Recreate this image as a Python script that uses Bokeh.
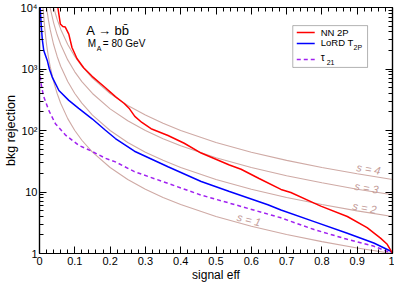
from bokeh.plotting import figure
from bokeh.models import (LinearAxis, LogAxis, SingleIntervalTicker, LogTicker, Label,
                          BoxAnnotation, Arrow, CustomJSTickFormatter)
from bokeh.embed import file_html
from bokeh.resources import INLINE

# ---- data ----
nn_eff = [0.052, 0.059, 0.066, 0.073, 0.083, 0.092, 0.106, 0.125, 0.149, 0.186, 0.203, 0.215,
          0.24, 0.255, 0.27, 0.29, 0.316, 0.364, 0.41, 0.458, 0.538, 0.571, 0.622, 0.684,
          0.712, 0.778, 0.797, 0.872, 0.928, 0.966, 0.985, 1.0]
nn_rej = [10000, 5400, 4900, 4800, 3700, 2240, 1480, 1050, 760, 500, 410, 355,
          275, 225, 170, 135, 107, 83, 62, 43, 27.5, 23.4, 16.6, 11.0,
          9.8, 6.6, 5.9, 4.0, 2.63, 1.78, 1.41, 1.0]

lord_eff = [0.002, 0.005, 0.008, 0.012, 0.022, 0.028, 0.036, 0.055, 0.083, 0.111, 0.149, 0.186,
            0.215, 0.269, 0.364, 0.458, 0.538, 0.647, 0.684, 0.778, 0.872, 0.947, 0.994, 1.0]
lord_rej = [10000, 5000, 3000, 2000, 1380, 1000, 740, 447, 309, 229, 155, 102,
            74, 46, 25.7, 14.8, 10.2, 6.2, 5.1, 3.3, 2.14, 1.48, 1.1, 1.0]

tau_eff = [0.002, 0.006, 0.012, 0.026, 0.045, 0.073, 0.111, 0.149, 0.186, 0.215, 0.269, 0.364,
           0.458, 0.538, 0.684, 0.778, 0.872, 0.946, 1.0]
tau_rej = [760, 510, 355, 214, 129, 85, 57.5, 45.7, 35.5, 30.9, 21.4, 13.8,
           8.9, 6.6, 3.8, 2.45, 1.70, 1.32, 1.0]

iso_eff = [0.01, 0.015, 0.02, 0.025, 0.03, 0.04, 0.05, 0.06, 0.08, 0.1, 0.12, 0.15, 0.2,
           0.25, 0.3, 0.35, 0.4, 0.5, 0.6, 0.7, 0.8, 0.9, 1.0]
iso_s1 = [10000, 4444, 2500, 1600, 1111, 625, 400, 278, 156, 100, 69.4, 44.4, 25,
          16, 11.1, 8.16, 6.25, 4, 2.78, 2.04, 1.56, 1.23, 1]
iso_s2 = [40000, 17778, 10000, 6400, 4444, 2500, 1600, 1111, 625, 400, 278, 178, 100,
          64, 44.4, 32.7, 25, 16, 11.1, 8.16, 6.25, 4.94, 4]
iso_s3 = [90000, 40000, 22500, 14400, 10000, 5625, 3600, 2500, 1406, 900, 625, 400, 225,
          144, 100, 73.5, 56.3, 36, 25, 18.4, 14.1, 11.1, 9]
iso_s4 = [160000, 71111, 40000, 25600, 17778, 10000, 6400, 4444, 2500, 1600, 1111, 711, 400,
          256, 178, 131, 100, 64, 44.4, 32.7, 25, 19.8, 16]
iso_labels = ["s = 1", "s = 2", "s = 3", "s = 4"]

y_tick_labels = {1: "1", 10: "10", 100: "10\u00b2", 1000: "10\u00b3", 10000: "10\u2074"}

FONT = "Liberation Sans"
BROWN = "#cfaaa5"
BROWN_TXT = "#c39b97"

p = figure(width=394, height=284, x_range=(0, 1), y_range=(1, 1e4), y_axis_type="log",
           output_backend="svg", toolbar_location=None,
           min_border_left=38, min_border_right=2, min_border_top=7, min_border_bottom=30)
p.grid.visible = False
p.outline_line_color = "black"
p.outline_line_width = 1.2
p.background_fill_color = "white"
p.border_fill_color = "white"


def style_axis(ax):
    ax.axis_line_color = "black"
    ax.axis_line_width = 1.2
    ax.major_tick_in = 7
    ax.major_tick_out = 0
    ax.minor_tick_in = 4
    ax.minor_tick_out = 0
    ax.major_tick_line_color = "black"
    ax.minor_tick_line_color = "black"
    ax.major_label_text_font = FONT
    ax.major_label_text_font_size = "11px"
    ax.major_label_text_color = "black"
    ax.axis_label_text_font = FONT
    ax.axis_label_text_font_style = "normal"
    ax.axis_label_text_color = "black"
    ax.axis_label_standoff = 0


xt = SingleIntervalTicker(interval=0.1, num_minor_ticks=5)
yt = LogTicker(num_minor_ticks=10)
xfmt = CustomJSTickFormatter(code="return String(Number(tick.toFixed(2)));")
blank = CustomJSTickFormatter(code="return '';")

xa = p.xaxis[0]
xa.ticker = xt
xa.formatter = xfmt
style_axis(xa)
xa.major_label_standoff = 3
xa.axis_label = "signal eff"
xa.axis_label_text_font_size = "12px"

ya = p.yaxis[0]
ya.ticker = yt
ya.major_label_overrides = y_tick_labels
style_axis(ya)
ya.major_label_standoff = 2
ya.axis_label = "bkg rejection"
ya.axis_label_text_font_size = "12.5px"

top = LinearAxis(ticker=xt, formatter=blank)
style_axis(top)
top.major_label_standoff = 0
p.add_layout(top, "above")

right = LogAxis(ticker=yt, formatter=blank)
style_axis(right)
right.major_label_standoff = 0
p.add_layout(right, "right")

# iso-significance curves
for ys in (iso_s1, iso_s2, iso_s3, iso_s4):
    p.line(iso_eff, ys, line_color=BROWN, line_width=1.1)

p.line(tau_eff, tau_rej, line_color="#a020f0", line_width=1.5, line_dash="4 3")
p.line(lord_eff, lord_rej, line_color="#0000ff", line_width=1.5)
p.line(nn_eff, nn_rej, line_color="#ff0000", line_width=1.5)


def px(xp, yp):
    # reference-picture pixel -> data coordinates (annotation placement)
    return (xp - 38) / 354.0, 10 ** ((254 - yp) / 61.8)


def label(xp, yp, text, size, **kw):
    dx, dy = px(xp, yp)
    opts = dict(text_font=FONT, text_font_size=size, text_baseline="middle", text_color="black")
    opts.update(kw)
    p.add_layout(Label(x=dx, y=dy, text=text, **opts))


# s labels
for txt, (lx, ly), ang in zip(iso_labels, [(248, 220), (364, 208), (366, 188), (368, 169)],
                              [-0.25, -0.17, -0.16, -0.16]):
    label(lx, ly, txt, "11px", text_color=BROWN_TXT, text_align="center", angle=ang,
          text_font_style="italic")

# process annotation
label(85, 30, "A \u2192 bb\u0304", "13px")
label(86.5, 43, "M", "10px")
label(95.5, 47.5, "A", "7px")
label(101.5, 43, "= 80 GeV", "10px")

# legend
l, t = px(292, 25)
r, b = px(367, 67)
p.add_layout(BoxAnnotation(left=l, right=r, top=t, bottom=b, fill_color="white", fill_alpha=1,
                           line_color="black", line_width=1))
for (yrow, col, dash) in [(32, "#ff0000", "solid"), (43, "#0000ff", "solid"), (59, "#a020f0", "4 3")]:
    x0, yy = px(296, yrow)
    x1, _ = px(314, yrow)
    p.add_layout(Arrow(x_start=x0, y_start=yy, x_end=x1, y_end=yy, end=None,
                       line_color=col, line_width=1.5, line_dash=dash))
label(320, 32, "NN 2P", "9.5px")
label(320, 42, "LoRD T", "9.5px")
label(353, 47, "2P", "7px")
label(320, 57, "\u03c4", "10px")
label(326, 62, "21", "7px")

open("out.html", "w").write(file_html(p, INLINE))
